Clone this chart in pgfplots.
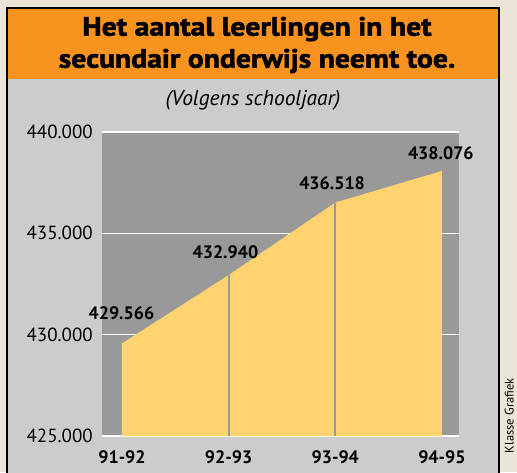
\documentclass[border=0pt]{standalone}
\usepackage{pgfplots}
\pgfplotsset{compat=1.18}
\usepackage{fontspec}
\setmainfont{PT Sans}
\newfontfamily\heavyfont{PT Sans}[UprightFont={* Bold}, FakeBold=2, FakeStretch=1.12]
\definecolor{bgbeige}{HTML}{EBE5D7}
\definecolor{panelgray}{HTML}{CCCCCC}
\definecolor{plotgray}{HTML}{999999}
\definecolor{titleorange}{HTML}{F7931E}
\definecolor{areayellow}{HTML}{FFD470}
\pgfplotstableread{
x y
0 429566
1 432940
2 436518
3 438076
}\datatable
\pgfplotstableread{
x y label
-0.005 431071 429.566
0.97 434082 432.940
1.97 437488 436.518
2.99 438968 438.076
}\labeltable
\begin{document}
\begin{tikzpicture}[x=1pt,y=1pt]
\clip (0,0) rectangle (517,472);
\fill[bgbeige] (0,0) rectangle (517,472);
\draw[line width=2pt, fill=panelgray] (7,-10) rectangle (499,464);
\fill[titleorange] (8,393) rectangle (498,463);
\node[font=\heavyfont\fontsize{26.5}{32}\selectfont, align=center] at (257,427) {Het aantal leerlingen in het\\secundair onderwijs neemt toe.};
\node[font=\itshape\fontsize{21.5}{24}\selectfont] at (253,372) {(Volgens schooljaar)};
\node[font=\fontsize{12.5}{14}\selectfont, rotate=90, anchor=south east, inner sep=0pt] at (514,94) {Klasse Grafiek};
\begin{axis}[
  at={(102pt,36pt)}, anchor=south west,
  width=357pt, height=304pt, scale only axis,
  xmin=-0.1875, xmax=3.16, ymin=425000, ymax=440000,
  clip=false,
  scaled y ticks=false,
  axis background/.style={fill=plotgray},
  axis line style={draw=none},
  major tick length=0pt,
  ymajorgrids, grid style={white, line width=1.5pt},
  ytick={425000,430000,435000,440000},
  yticklabels={425.000,430.000,435.000,440.000},
  xtick={0,1,2,3},
  xticklabels={91-92,92-93,93-94,94-95},
  yticklabel style={font=\fontsize{19}{22}\selectfont, inner sep=0pt, xshift=-9pt},
  xticklabel style={font=\bfseries\fontsize{18}{22}\selectfont, inner sep=0pt, yshift=-14pt},
  /pgf/number format/assume math mode=true,
]
\addplot[fill=areayellow, draw=none] table[x=x,y=y] {\datatable} |- (axis cs:0,425000) -- cycle;
\addplot[draw=plotgray, line width=2pt] coordinates {(1,425000) (1,432940)};
\addplot[draw=plotgray, line width=2pt] coordinates {(2,425000) (2,436518)};
\addplot[draw=none, mark=none, nodes near coords, point meta=explicit symbolic,
  nodes near coords style={anchor=center, font=\bfseries\fontsize{18}{20}\selectfont, inner sep=0pt}]
  table[x=x,y=y,meta=label] {\labeltable};
\end{axis}
\end{tikzpicture}
\end{document}
